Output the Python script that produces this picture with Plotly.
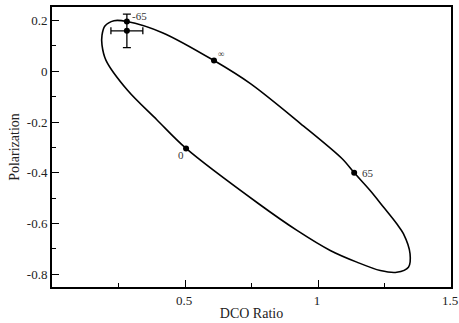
import plotly.graph_objects as go

# Curve (DCO ratio, polarization), closed loop
curve_x = [0.2815, 0.415, 0.609, 0.746, 0.934, 1.090, 1.136, 1.196, 1.246,
           1.296, 1.321, 1.346, 1.340, 1.296, 1.234, 1.146, 1.046, 0.921, 0.777,
           0.504, 0.394, 0.284, 0.203, 0.188, 0.188, 0.199, 0.233, 0.2815]
curve_y = [0.196, 0.152, 0.042, -0.049, -0.206, -0.344, -0.400, -0.470, -0.535,
           -0.601, -0.640, -0.719, -0.772, -0.792, -0.785, -0.752, -0.706, -0.627, -0.522,
           -0.304, -0.191, -0.075, 0.043, 0.103, 0.142, 0.178, 0.199, 0.196]

# Labelled points on the curve
mark_labels = ["-65", "\u221e", "0", "65"]
mark_x = [0.2815, 0.609, 0.504, 1.136]
mark_y = [0.196, 0.042, -0.304, -0.400]

# Measured point with error bars
meas_x = [0.2815]
meas_y = [0.159]
meas_ex = [0.060]
meas_ey = [0.066]

x_ticks = [0.5, 1, 1.5]
x_minor = [0.25, 0.75, 1.25]
y_ticks = [0.2, 0, -0.2, -0.4, -0.6, -0.8]
y_minor = [0.1, -0.1, -0.3, -0.5, -0.7]

FONT = "Liberation Serif"

fig = go.Figure()
fig.add_trace(go.Scatter(x=curve_x, y=curve_y, mode="lines",
                         line=dict(color="black", width=1.6, shape="spline", smoothing=0.9),
                         hoverinfo="skip", showlegend=False))
fig.add_trace(go.Scatter(x=mark_x, y=mark_y, mode="markers",
                         marker=dict(color="black", size=6), showlegend=False))
fig.add_trace(go.Scatter(x=meas_x, y=meas_y, mode="markers",
                         marker=dict(color="black", size=6),
                         error_x=dict(type="data", array=meas_ex, color="black", thickness=1.3, width=3.5),
                         error_y=dict(type="data", array=meas_ey, color="black", thickness=1.3, width=4),
                         showlegend=False))

offsets = [dict(xanchor="left", yanchor="middle", xshift=3, yshift=5, size=11),
           dict(xanchor="center", yanchor="middle", xshift=7, yshift=7, size=9),
           dict(xanchor="center", yanchor="middle", xshift=-5, yshift=-7, size=11),
           dict(xanchor="left", yanchor="middle", xshift=6, yshift=0, size=11)]
for lab, xx, yy, o in zip(mark_labels, mark_x, mark_y, offsets):
    fig.add_annotation(x=xx, y=yy, text=lab, showarrow=False,
                       xanchor=o["xanchor"], yanchor=o["yanchor"],
                       xshift=o["xshift"], yshift=o["yshift"],
                       font=dict(family=FONT, size=o["size"], color="#333"))

axis_common = dict(showgrid=False, zeroline=False, showline=True, linecolor="black",
                   linewidth=2, mirror=True, ticks="inside", ticklen=7, tickwidth=1,
                   tickcolor="black", automargin=False, ticklabeloverflow="allow",
                   tickfont=dict(family=FONT, size=13, color="#222"))

fig.update_xaxes(range=[0, 1.5], tickvals=x_ticks, ticktext=["0.5", "1", "1.5"],
                 ticklabelshift=-1,
                 minor=dict(tickvals=x_minor, ticks="inside", ticklen=4, tickcolor="black"),
                 title=dict(text="DCO Ratio", font=dict(family=FONT, size=14, color="#222"), standoff=2),
                 **axis_common)
fig.update_yaxes(range=[-0.85, 0.253], tickvals=y_ticks,
                 ticktext=["0.2", "0", "-0.2", "-0.4", "-0.6", "-0.8"],
                 minor=dict(tickvals=y_minor, ticks="inside", ticklen=4, tickcolor="black"),
                 title=dict(text="Polarization", font=dict(family=FONT, size=14, color="#222"), standoff=4),
                 **axis_common)

fig.update_layout(width=459, height=323, margin=dict(l=52, r=8, t=7, b=36),
                  plot_bgcolor="white", paper_bgcolor="white", showlegend=False)

fig.write_html("out.html", config={"displayModeBar": False},
               post_script="document.body.style.margin='0';document.body.style.overflow='hidden';")
